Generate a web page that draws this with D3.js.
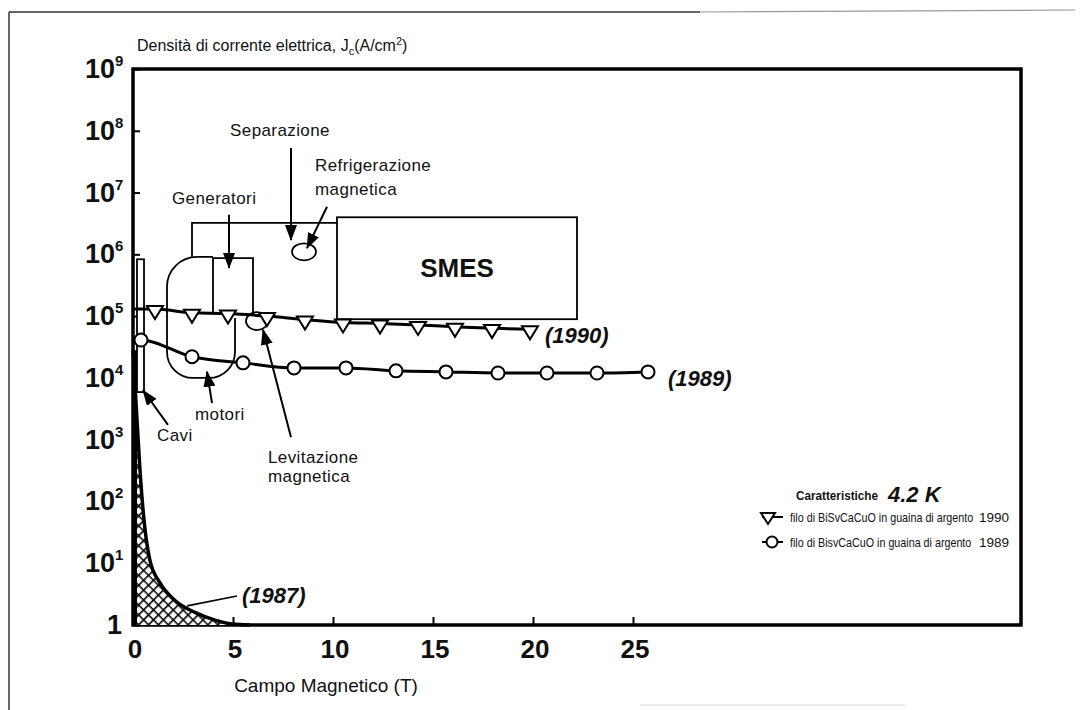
<!DOCTYPE html>
<html>
<head>
<meta charset="utf-8">
<script src="https://cdn.jsdelivr.net/npm/d3@7"></script>
<style>
  body { margin: 0; background: #fff; }
  svg { display: block; }
  text { font-family: "Liberation Sans", Arial, Helvetica, sans-serif; fill: #111; }
</style>
</head>
<body>
<svg id="chart" width="1084" height="710"></svg>
<script>
// ---- data ----
// 1990 wire (triangles); first value is where the line meets the axis (no marker)
var field1990 = [0, 1.1, 2.95, 4.75, 6.7, 8.6, 10.5, 12.35, 14.25, 16.1, 17.95, 19.85];
var jc1990 = [1.3e5, 1.3e5, 1.13e5, 1.1e5, 1.0e5, 8.8e4, 7.9e4, 7.6e4, 7.2e4, 6.7e4, 6.4e4, 6.1e4];
// 1989 wire (circles)
var field1989 = [0.4, 2.95, 5.5, 8.05, 10.65, 13.15, 15.65, 18.25, 20.7, 23.2, 25.75];
var jc1989 = [4.1e4, 2.2e4, 1.75e4, 1.45e4, 1.45e4, 1.3e4, 1.25e4, 1.2e4, 1.2e4, 1.2e4, 1.25e4];
// 1987 hatched region (upper boundary)
var field1987 = [0, 0.2, 0.35, 0.55, 0.85, 1.35, 2.1, 3.1, 4.1, 4.95, 5.85];
var jc1987 = [2.8e4, 2100, 320, 50, 11, 4.8, 2.5, 1.6, 1.2, 1.04, 1];

var xTicks = [0, 5, 10, 15, 20, 25];
var yExponents = [0, 1, 2, 3, 4, 5, 6, 7, 8, 9];
var fieldMax = 44.4;

// application regions, in field (T) and log10(Jc) units
var rectRegions = [
  { name: "Cavi", t0: 0.2, t1: 0.55, top: 5.92, bot: 3.77 },
  { name: "SMES", t0: 10.2, t1: 22.2, top: 6.6, bot: 4.95 }
];
var genBox = { t0: 4.0, t1: 6.0, top: 5.94, bot: 5.03 };
var motoriShape = { t0: 1.7, t1: 5.1, top: 5.96, bot: 4.0, rightStart: 4.97 };
var separazioneEdge = [[2.95, 5.96], [2.95, 6.51], [10.2, 6.51]];
var ovals = [
  { t: 8.55, l: 6.04, rx: 12, ry: 8.5 },   // refrigerazione
  { t: 6.2, l: 4.92, rx: 11, ry: 9 }       // levitazione
];
var arrows = [ // [from, to] as [T, log10 Jc]
  [[7.9, 7.72], [7.9, 6.23]],     // Separazione
  [[9.7, 6.77], [8.7, 6.10]],     // Refrigerazione
  [[4.8, 6.64], [4.8, 5.78]],     // Generatori
  [[3.95, 3.59], [3.7, 4.10]],    // motori
  [[1.75, 3.24], [0.5, 3.80]],    // Cavi
  [[7.9, 3.04], [6.5, 4.78]]      // Levitazione
];
var leader1987 = [[5.2, 0.47], [2.7, 0.31]];
var labels = [
  { text: "Separazione", t: 7.35, l: 7.92, anchor: "middle" },
  { text: "Refrigerazione", t: 9.1, l: 7.35, anchor: "start" },
  { text: "magnetica", t: 9.1, l: 6.96, anchor: "start" },
  { text: "Generatori", t: 1.95, l: 6.81, anchor: "start" },
  { text: "motori", t: 3.1, l: 3.32, anchor: "start" },
  { text: "Cavi", t: 1.2, l: 2.98, anchor: "start" },
  { text: "Levitazione", t: 6.75, l: 2.63, anchor: "start" },
  { text: "magnetica", t: 6.75, l: 2.31, anchor: "start" }
];
var yearLabels = [
  { text: "(1990)", t: 20.6, l: 4.56 },
  { text: "(1989)", t: 26.75, l: 3.87 },
  { text: "(1987)", t: 5.45, l: 0.36 }
];
var legendRows = [
  { text: "filo di BiSvCaCuO in guaina di argento", year: "1990", mark: "tri" },
  { text: "filo di BisvCaCuO in guaina di argento", year: "1989", mark: "circle" }
];

var svg = d3.select("#chart");
var x = d3.scaleLinear().domain([0, fieldMax]).range([133, 1021]);
var y = d3.scaleLog().domain([1, 1e9]).range([625, 69]);
var ly = function(l) { return y(Math.pow(10, l)); };

svg.append("rect").attr("width", 1084).attr("height", 710).attr("fill", "#fff");

// page frame of the scanned figure
svg.append("line").attr("x1", 9).attr("y1", 12).attr("x2", 9).attr("y2", 710)
  .attr("stroke", "#333").attr("stroke-width", 1.5);
svg.append("line").attr("x1", 9).attr("y1", 12).attr("x2", 700).attr("y2", 12)
  .attr("stroke", "#333").attr("stroke-width", 1.5);
svg.append("line").attr("x1", 700).attr("y1", 12).attr("x2", 1075).attr("y2", 10)
  .attr("stroke", "#999").attr("stroke-width", 1.2);
svg.append("line").attr("x1", 640).attr("y1", 705).attr("x2", 905).attr("y2", 705)
  .attr("stroke", "#e4e4e4").attr("stroke-width", 1.5);

var defs = svg.append("defs");
var pat = defs.append("pattern").attr("id", "hatch")
  .attr("patternUnits", "userSpaceOnUse").attr("width", 7).attr("height", 7)
  .attr("patternTransform", "rotate(45)");
pat.append("rect").attr("width", 7).attr("height", 7).attr("fill", "#fff");
pat.append("path").attr("d", "M0,0 H7 M0,0 V7").attr("stroke", "#000").attr("stroke-width", 3.2);

defs.append("marker").attr("id", "ah")
  .attr("viewBox", "0 0 16 12").attr("refX", 15).attr("refY", 6)
  .attr("markerWidth", 16).attr("markerHeight", 12)
  .attr("markerUnits", "userSpaceOnUse").attr("orient", "auto")
  .append("path").attr("d", "M0,0 L16,6 L0,12 Z").attr("fill", "#000");

// ---- axes ----
var yAxis = d3.axisLeft(y)
  .tickValues(yExponents.map(function(e) { return Math.pow(10, e); }))
  .tickSize(-7).tickFormat("");
svg.append("g").attr("transform", "translate(" + x(0) + ",0)").call(yAxis)
  .call(function(g) { g.select(".domain").remove(); })
  .selectAll("line").attr("stroke", "#000").attr("stroke-width", 2);

var xAxis = d3.axisBottom(x).tickValues(xTicks.slice(1)).tickSize(-8).tickFormat("");
svg.append("g").attr("transform", "translate(0," + y(1) + ")").call(xAxis)
  .call(function(g) { g.select(".domain").remove(); })
  .selectAll("line").attr("stroke", "#000").attr("stroke-width", 2);

// plot frame
svg.append("rect")
  .attr("x", x(0)).attr("y", y(1e9))
  .attr("width", x(fieldMax) - x(0)).attr("height", y(1) - y(1e9))
  .attr("fill", "none").attr("stroke", "#000").attr("stroke-width", 3.5);

// y tick labels 10^n
svg.append("g").selectAll("text").data(yExponents).join("text")
  .attr("y", function(d) { return y(Math.pow(10, d)) + 9; })
  .attr("font-weight", "bold").attr("font-size", 27)
  .each(function(d) {
    var t = d3.select(this);
    if (d === 0) {
      t.attr("x", 122).attr("text-anchor", "end").text("1");
    } else {
      t.attr("x", 85);
      t.append("tspan").text("10");
      t.append("tspan").attr("font-size", 15).attr("dy", -12).text(d);
    }
  });

// x tick labels
svg.append("g").selectAll("text").data(xTicks).join("text")
  .attr("x", function(d) { return x(d) + 2; }).attr("y", 658)
  .attr("text-anchor", "middle").attr("font-weight", "bold").attr("font-size", 26)
  .text(function(d) { return d; });

svg.append("text").attr("x", 326).attr("y", 692).attr("text-anchor", "middle")
  .attr("font-size", 19).text("Campo Magnetico (T)");

var title = svg.append("text").attr("x", 137).attr("y", 51).attr("font-size", 16);
title.append("tspan").text("Densità di corrente elettrica, J");
title.append("tspan").attr("font-size", 11).attr("dy", 4).text("c");
title.append("tspan").attr("dy", -4).text("(A/cm");
title.append("tspan").attr("font-size", 11).attr("dy", -6).text("2");
title.append("tspan").attr("dy", 6).text(")");

// ---- application regions ----
var outline = svg.append("g").attr("fill", "none").attr("stroke", "#000").attr("stroke-width", 1.8);

outline.selectAll("rect").data(rectRegions).join("rect")
  .attr("x", function(d) { return x(d.t0); })
  .attr("y", function(d) { return ly(d.top); })
  .attr("width", function(d) { return x(d.t1) - x(d.t0); })
  .attr("height", function(d) { return ly(d.bot) - ly(d.top); })
  .attr("fill", "#fff");

outline.append("path")
  .attr("d", d3.line().x(function(d) { return x(d[0]); }).y(function(d) { return ly(d[1]); })(separazioneEdge));

outline.append("path").attr("d",
  "M" + x(genBox.t0) + "," + ly(genBox.bot) +
  "V" + ly(genBox.top) + "H" + x(genBox.t1) + "V" + ly(genBox.bot));

(function() {
  var m = motoriShape, x0 = x(m.t0), x1 = x(m.t1), yt = ly(m.top), yb = ly(m.bot);
  var rt = 30, rb = 26;
  outline.append("path").attr("d",
    "M" + x1 + "," + ly(m.rightStart) +
    "V" + (yb - rb) +
    "A" + rb + "," + rb + " 0 0 1 " + (x1 - rb) + "," + yb +
    "H" + (x0 + rb) +
    "A" + rb + "," + rb + " 0 0 1 " + x0 + "," + (yb - rb) +
    "V" + (yt + rt) +
    "A" + rt + "," + rt + " 0 0 1 " + (x0 + rt) + "," + yt +
    "H" + x(genBox.t0));
})();

outline.selectAll("ellipse").data(ovals).join("ellipse")
  .attr("cx", function(d) { return x(d.t); }).attr("cy", function(d) { return ly(d.l); })
  .attr("rx", function(d) { return d.rx; }).attr("ry", function(d) { return d.ry; });

svg.append("text").attr("x", x((rectRegions[1].t0 + rectRegions[1].t1) / 2))
  .attr("y", (ly(rectRegions[1].top) + ly(rectRegions[1].bot)) / 2 + 9)
  .attr("text-anchor", "middle").attr("font-weight", "bold").attr("font-size", 26)
  .text("SMES");

// ---- 1987 hatched region ----
var pts1987 = d3.zip(field1987, jc1987);
svg.append("path")
  .attr("d", d3.area().x(function(d) { return x(d[0]); }).y0(y(1)).y1(function(d) { return y(d[1]); })
    .curve(d3.curveMonotoneX)(pts1987))
  .attr("fill", "url(#hatch)");
svg.append("path")
  .attr("d", d3.line().x(function(d) { return x(d[0]); }).y(function(d) { return y(d[1]); })
    .curve(d3.curveMonotoneX)(pts1987))
  .attr("fill", "none").attr("stroke", "#000").attr("stroke-width", 3.5);
svg.append("line").attr("x1", x(0) + 2).attr("x2", x(0) + 2)
  .attr("y1", y(jc1987[0])).attr("y2", y(1))
  .attr("stroke", "#000").attr("stroke-width", 4);

// ---- series ----
var line = d3.line().x(function(d) { return x(d[0]); }).y(function(d) { return y(d[1]); })
  .curve(d3.curveMonotoneX);
var s1990 = d3.zip(field1990, jc1990);
var s1989 = d3.zip(field1989, jc1989);

svg.append("path").attr("d", line([[0, jc1989[0]]].concat(s1989)))
  .attr("fill", "none").attr("stroke", "#000").attr("stroke-width", 3);
svg.append("path").attr("d", line(s1990))
  .attr("fill", "none").attr("stroke", "#000").attr("stroke-width", 3);

var tri = "M-8,-3 L8,-3 L0,10 Z";
svg.append("g").selectAll("path").data(s1990.slice(1)).join("path")
  .attr("transform", function(d) { return "translate(" + x(d[0]) + "," + y(d[1]) + ")"; })
  .attr("d", tri).attr("fill", "#fff").attr("stroke", "#000").attr("stroke-width", 2);

svg.append("g").selectAll("circle").data(s1989).join("circle")
  .attr("cx", function(d) { return x(d[0]); }).attr("cy", function(d) { return y(d[1]); })
  .attr("r", 6.5).attr("fill", "#fff").attr("stroke", "#000").attr("stroke-width", 2);

// ---- arrows and labels ----
svg.append("g").selectAll("line").data(arrows).join("line")
  .attr("x1", function(d) { return x(d[0][0]); }).attr("y1", function(d) { return ly(d[0][1]); })
  .attr("x2", function(d) { return x(d[1][0]); }).attr("y2", function(d) { return ly(d[1][1]); })
  .attr("stroke", "#000").attr("stroke-width", 2).attr("marker-end", "url(#ah)");

svg.append("line")
  .attr("x1", x(leader1987[0][0])).attr("y1", ly(leader1987[0][1]))
  .attr("x2", x(leader1987[1][0])).attr("y2", ly(leader1987[1][1]))
  .attr("stroke", "#000").attr("stroke-width", 1.6);

svg.append("g").selectAll("text").data(labels).join("text")
  .attr("x", function(d) { return x(d.t); }).attr("y", function(d) { return ly(d.l); })
  .attr("text-anchor", function(d) { return d.anchor; })
  .attr("font-size", 17).attr("letter-spacing", 0.4).text(function(d) { return d.text; });

svg.append("g").selectAll("text").data(yearLabels).join("text")
  .attr("x", function(d) { return x(d.t); }).attr("y", function(d) { return ly(d.l); })
  .attr("font-size", 22).attr("font-weight", "bold").attr("font-style", "italic")
  .text(function(d) { return d.text; });

// ---- legend ----
var lg = svg.append("g");
lg.append("text").attr("x", 796).attr("y", 500).attr("font-size", 13).attr("font-weight", "bold")
  .attr("textLength", 82).attr("lengthAdjust", "spacingAndGlyphs")
  .text("Caratteristiche");
lg.append("text").attr("x", 888).attr("y", 502).attr("font-size", 22).attr("font-weight", "bold")
  .attr("font-style", "italic").text("4.2 K");

legendRows.forEach(function(r, i) {
  var base = 522 + i * 25, cy = base - 5;
  lg.append("line").attr("x1", 762).attr("x2", 783).attr("y1", cy).attr("y2", cy)
    .attr("stroke", "#000").attr("stroke-width", 2);
  if (r.mark === "tri") {
    lg.append("path").attr("transform", "translate(768," + (cy - 1) + ")")
      .attr("d", "M-7,-3 L7,-3 L0,8 Z").attr("fill", "#fff").attr("stroke", "#000").attr("stroke-width", 2);
  } else {
    lg.append("circle").attr("cx", 772).attr("cy", cy).attr("r", 5.5)
      .attr("fill", "#fff").attr("stroke", "#000").attr("stroke-width", 2);
  }
  // slightly condensed, like the original typeface
  lg.append("g").attr("transform", "translate(790," + base + ") scale(0.88,1)")
    .append("text").attr("x", 0).attr("y", 0).attr("font-size", 12.2).text(r.text);
  lg.append("text").attr("x", 979).attr("y", base).attr("font-size", 13.5)
    .attr("font-family", "'Liberation Serif', serif").text(r.year);
});
</script>
</body>
</html>
